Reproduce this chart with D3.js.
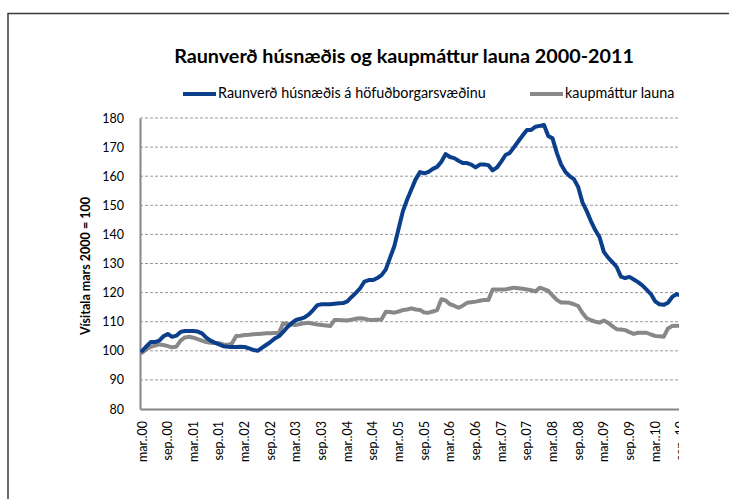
<!DOCTYPE html>
<html><head><meta charset="utf-8">
<script src="https://cdn.jsdelivr.net/npm/d3@7"></script>
<style>body{margin:0;background:#fff}svg{display:block}text{font-family:Lato,"Open Sans",sans-serif;fill:#000}</style>
</head><body><svg id="c" width="729" height="499"></svg>
<script>
const chartTitle = "Raunverð húsnæðis og kaupmáttur launa 2000-2011";
const seriesNames = ["Raunverð húsnæðis á höfuðborgarsvæðinu", "kaupmáttur launa"];
const yAxisTitle = "Vísitala mars 2000 = 100";
const yTicks = [80, 90, 100, 110, 120, 130, 140, 150, 160, 170, 180];
const monthNames = ["jan","feb","mar","apr","maí","jún","júl","ágú","sep","okt","nóv","des"];
const tickMonths = ["mar", "sep"];

// Raunverð húsnæðis á höfuðborgarsvæðinu, monthly from mar 2000
const housing = [
 100,101.5,103,103,103.5,105,105.8,104.8,105.2,106.5,106.8,106.8,
 106.8,106.6,106,104.5,103.5,102.8,102.2,101.6,101.4,101.3,101.3,101.4,
 101.3,100.8,100.3,100,101,102,103,104.2,105,106.5,108.2,109.5,
 110.6,111,111.5,112.5,114,115.7,116,116,116,116.2,116.3,116.4,
 117,118.5,119.9,121.5,123.8,124.3,124.3,125,126,128,132,136,
 142,148,152,155.5,159,161.4,161,161.5,162.5,163.2,165,167.6,
 166.6,166.2,165.3,164.5,164.5,164,163,164,164,163.8,162,163,
 165,167.3,168,170,172,174,175.9,175.9,177,177.3,177.6,173.8,
 173,168,164,161.5,160,159,156.3,151,148,144.5,141.5,139,
 134,132,130.5,128.8,125.5,125,125.4,124.5,123.6,122.5,121,119.5,
 117,116,115.8,116.5,118.5,119.5,119,118.5
];
// kaupmáttur launa, monthly from mar 2000
const wages = [
 99.4,100.5,101.4,101.8,102.2,102,101.6,101.2,101.4,103.5,104.6,104.8,
 104.5,104,103.5,103,102.8,102.7,102.6,102.2,102,102.5,105.1,105.2,
 105.4,105.5,105.7,105.8,105.9,106,106,106.1,106.2,109.4,109.3,109,
 108.9,109.2,109.5,109.6,109.3,109,108.9,108.7,108.5,110.6,110.6,110.5,
 110.4,110.7,111,111.2,111,110.7,110.6,110.7,110.8,113.4,113.3,113.1,
 113.5,114,114.2,114.6,114.2,114,113.2,113.1,113.5,114,117.7,117.3,
 116,115.5,114.8,115.5,116.5,116.7,116.9,117.2,117.5,117.5,121.1,121.1,
 121.1,121.1,121.4,121.7,121.5,121.3,121.1,120.8,120.4,121.7,121.2,120.6,
 119,117.5,116.6,116.6,116.5,116,115.4,113,111.2,110.5,110,109.7,
 110.4,109.6,108.5,107.4,107.3,107.1,106.4,105.8,106.2,106.2,106.2,105.6,
 105.1,105,104.8,107.7,108.5,108.6,108.6,108.6
];
const categories = housing.map((_, i) => {
  const m = (2 + i) % 12, y = Math.floor((2 + i) / 12);
  return monthNames[m] + ".." + String(y).padStart(2, "0");
});
const tickLabels = categories.filter(c => tickMonths.includes(c.split("..")[0]));

const blue = "#0b3f8c", gray = "#888888";
const svg = d3.select("#c");
svg.append("defs").append("clipPath").attr("id", "clipR")
  .append("rect").attr("x", 0).attr("y", 0).attr("width", 679).attr("height", 499);

// outer frame
svg.append("rect").attr("x", 8).attr("y", 13.5).attr("width", 800).attr("height", 600)
  .attr("fill", "none").attr("stroke", "#3a3a3a").attr("stroke-width", 1.5);

const g = svg.append("g").attr("clip-path", "url(#clipR)");

const left = 140, bw = 4.275;
const x = d3.scaleBand().domain(categories).range([left, left + categories.length * bw]).padding(0);
const xc = c => x(c) + x.bandwidth() / 2;
const y = d3.scaleLinear().domain([80, 180]).range([409, 118]);
const right = left + categories.length * bw;

function fit(sel, w) {
  const l = sel.node().getComputedTextLength();
  const fs = parseFloat(sel.attr("font-size"));
  sel.attr("font-size", fs * w / l);
  return fs * w / l;
}

// title
fit(g.append("text").attr("x", 404).attr("y", 63).attr("text-anchor", "middle")
  .attr("font-size", 16).attr("font-weight", "bold").text(chartTitle), 460);

// legend
const legendItems = [
  {name: seriesNames[0], color: blue, x0: 183},
  {name: seriesNames[1], color: gray, x0: 530}
];
let legendFs = 12;
legendItems.forEach((d, i) => {
  g.append("line").attr("x1", d.x0).attr("x2", d.x0 + 33).attr("y1", 94).attr("y2", 94)
    .attr("stroke", d.color).attr("stroke-width", 4);
  const t = g.append("text").attr("x", d.x0 + 35).attr("y", 98).attr("font-size", legendFs).text(d.name);
  if (i === 0) legendFs = fit(t, 268);
});

// gridlines
g.append("g").selectAll("line").data(yTicks.filter(v => v > 80)).join("line")
  .attr("x1", left).attr("x2", right).attr("y1", d => y(d)).attr("y2", d => y(d))
  .attr("stroke", "#9a9a9a").attr("stroke-width", 1).attr("stroke-dasharray", "3,2");

// y axis
const yAxis = d3.axisLeft(y).tickValues(yTicks).tickSize(0).tickPadding(16);
const ya = g.append("g").attr("transform", `translate(${left},0)`).call(yAxis);
ya.select(".domain").attr("stroke", "#868686").attr("stroke-width", 2);
ya.selectAll("text").attr("font-size", 12.5).attr("font-family", "Lato,sans-serif").attr("fill", "#000");

// x axis
const xAxis = d3.axisBottom(x).tickValues(tickLabels).tickSize(0).tickSizeOuter(0);
const xa = g.append("g").attr("transform", `translate(0,409)`).call(xAxis);
xa.select(".domain").attr("stroke", "#868686").attr("stroke-width", 2);
xa.selectAll("text").attr("font-size", 12.5).attr("font-family", "Lato,sans-serif").attr("fill", "#000")
  .attr("text-anchor", "end").attr("transform", "rotate(-90)")
  .attr("x", -12).attr("y", 0).attr("dy", "0.35em");

// y title
fit(g.append("text").attr("transform", "translate(90,266) rotate(-90)").attr("text-anchor", "middle")
  .attr("font-size", 11.5).attr("font-weight", "bold").text(yAxisTitle), 138);

// lines
const line = d3.line().x((d, i) => xc(categories[i])).y(d => y(d)).curve(d3.curveLinear);
g.append("path").datum(wages).attr("d", line).attr("fill", "none").attr("stroke", gray)
  .attr("stroke-width", 4).attr("stroke-linejoin", "round").attr("stroke-linecap", "round");
g.append("path").datum(housing).attr("d", line).attr("fill", "none").attr("stroke", blue)
  .attr("stroke-width", 4).attr("stroke-linejoin", "round").attr("stroke-linecap", "round");
</script></body></html>
